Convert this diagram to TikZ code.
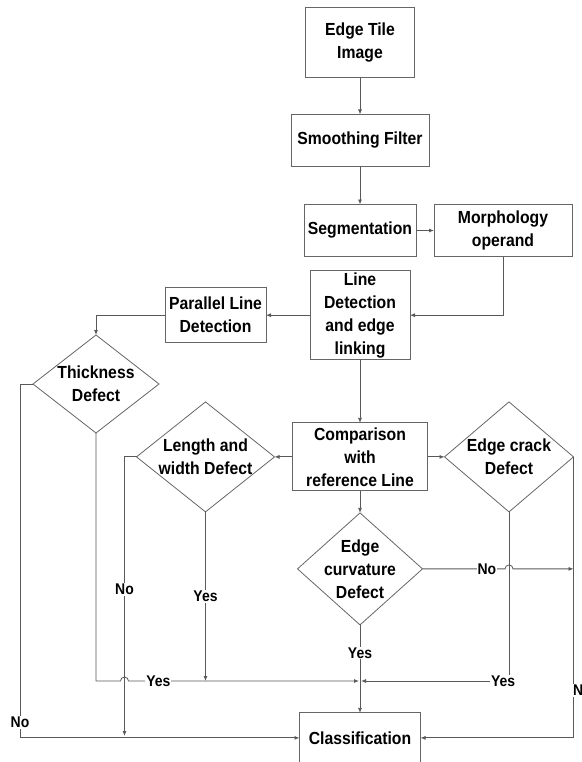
\documentclass[tikz,border=0pt]{standalone}
\usepackage{fontspec}
\setmainfont{Liberation Sans}[FakeStretch=0.9]
\usetikzlibrary{arrows.meta, positioning, shapes.geometric, calc}

\begin{document}
\begin{tikzpicture}[
    x=1pt, y=-1pt,
    block/.style={draw=black!60, line width=0.8pt, font=\bfseries\fontsize{17.5}{23}\selectfont,
        align=center, inner sep=2pt, outer sep=0pt},
    decision/.style={diamond, draw=black!60, line width=0.8pt, font=\bfseries\fontsize{17.5}{23}\selectfont,
        align=center, inner sep=-30pt, outer sep=0pt},
    arr/.style={-{Latex[length=5pt, width=4pt]}, line width=0.8pt, color=black!65},
    lbl/.style={fill=white, inner sep=1pt, text=black, font=\bfseries\fontsize{15.5}{16}\selectfont}
]
    \useasboundingbox (0,0) rectangle (581,762);

    \node[block, minimum width=109pt, minimum height=70pt] (tile) at (360,42.5) {Edge Tile\\Image};
    \node[block, minimum width=138pt, minimum height=52pt, below=37pt of tile] (smooth) {Smoothing Filter};
    \node[block, minimum width=112pt, minimum height=52pt, below=38pt of smooth] (seg) {Segmentation};
    \node[block, minimum width=138pt, minimum height=52pt, right=18pt of seg] (morph) {Morphology\\operand};
    \node[block, minimum width=100pt, minimum height=89pt, below=14pt of seg] (ldet) {Line\\Detection\\and edge\\linking};
    \node[block, minimum width=101pt, minimum height=55pt, left=44pt of ldet] (par) {Parallel Line\\Detection};
    \node[block, minimum width=135pt, minimum height=68pt, below=63pt of ldet] (comp) {Comparison\\with\\reference Line};
    \node[decision, minimum width=138pt, minimum height=110pt, left=18pt of comp] (len) {Length and\\width Defect};
    \node[decision, minimum width=129pt, minimum height=110pt, right=17pt of comp] (crack) {Edge crack\\Defect};
    \node[decision, minimum width=125pt, minimum height=112pt, below=22pt of comp] (curv) {Edge\\curvature\\Defect};
    \node[block, minimum width=121pt, minimum height=50pt, below=88pt of curv] (class) {Classification};
    \node[decision, minimum width=126pt, minimum height=98pt] (thick) at (96,384) {Thickness\\Defect};

    % junction points
    \coordinate (merge) at (360,681);
    \coordinate (lenno) at (124.5,736);
    \coordinate (curvno) at (crack.east |- curv.east);

    \draw[arr] (tile) -- (smooth);
    \draw[arr] (smooth) -- (seg);
    \draw[arr] (seg) -- (morph);
    \draw[arr] (morph.south) |- (ldet.east);
    \draw[arr] (ldet) -- (par);
    \draw[arr] (par.west) -| (thick.north);
    \draw[arr] (ldet) -- (comp);
    \draw[arr] (comp) -- (len);
    \draw[arr] (comp) -- (crack);
    \draw[arr] (comp) -- (curv);
    \draw[arr] (curv) -- node[lbl, pos=0.32] {Yes} (class);

    % thickness branches
    \draw[arr] (thick.west) -- ++(-13,0) |- node[lbl, pos=0.478] {No} (class.west);
    \draw[arr] (thick.south) |- ($(lenno |- merge)+(-4,0)$) arc[start angle=180, end angle=0, radius=4pt]
        -- node[lbl, pos=0.13] {Yes} ([xshift=-1pt]merge);

    % length and width branches
    \draw[arr] (len.west) -| node[lbl, pos=0.737] {No} (lenno);
    \draw[arr] (len.south) -- node[lbl] {Yes} (len.south |- merge);

    % curvature and crack branches
    \draw[arr] (curv.east) -- node[lbl, pos=0.78] {No} ($(crack.south |- curv.east)+(-4,0)$)
        arc[start angle=180, end angle=0, radius=4pt] -- (curvno);
    \draw[arr] (crack.south) |- node[lbl, pos=0.52] {Yes} ([xshift=1pt]merge);
    \draw[arr] (crack.east) |- node[lbl, pos=0.415, xshift=9pt] {No} (class.east);
\end{tikzpicture}
\end{document}
